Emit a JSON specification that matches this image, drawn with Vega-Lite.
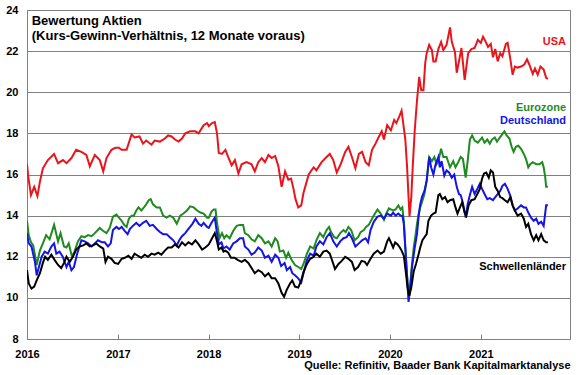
{
  "$schema": "https://vega.github.io/schema/vega-lite/v6.json",
  "width": 543,
  "height": 329,
  "autosize": {"type": "none"},
  "padding": {"left": 27, "top": 10, "right": 10, "bottom": 36},
  "background": "white",
  "config": {
    "font": "Liberation Sans",
    "view": {"stroke": "#808080", "strokeWidth": 1},
    "axis": {"labelFont": "Liberation Sans", "labelFontWeight": "bold", "labelFontSize": 11, "labelColor": "#000000", "titleFont": "Liberation Sans"}
  },
  "layer": [
    {
      "data": {"values": [
        {"d":"2016-01-01","s":"USA","v":16.5},{"d":"2016-01-06","s":"USA","v":15.9},{"d":"2016-01-17","s":"USA","v":15.0},{"d":"2016-01-30","s":"USA","v":15.4},{"d":"2016-02-12","s":"USA","v":14.95},{"d":"2016-02-22","s":"USA","v":15.65},{"d":"2016-03-05","s":"USA","v":16.3},{"d":"2016-03-25","s":"USA","v":16.7},{"d":"2016-04-19","s":"USA","v":17.0},{"d":"2016-05-05","s":"USA","v":16.55},{"d":"2016-05-25","s":"USA","v":16.7},{"d":"2016-06-08","s":"USA","v":16.55},{"d":"2016-06-28","s":"USA","v":16.8},{"d":"2016-07-17","s":"USA","v":17.2},{"d":"2016-08-07","s":"USA","v":17.1},{"d":"2016-08-27","s":"USA","v":16.95},{"d":"2016-09-10","s":"USA","v":16.4},{"d":"2016-09-30","s":"USA","v":16.95},{"d":"2016-10-20","s":"USA","v":16.7},{"d":"2016-11-03","s":"USA","v":16.15},{"d":"2016-11-16","s":"USA","v":16.8},{"d":"2016-12-06","s":"USA","v":17.2},{"d":"2016-12-22","s":"USA","v":17.3},
        {"d":"2017-01-05","s":"USA","v":17.3},{"d":"2017-01-16","s":"USA","v":17.2},{"d":"2017-02-05","s":"USA","v":17.2},{"d":"2017-02-25","s":"USA","v":17.95},{"d":"2017-03-09","s":"USA","v":17.8},{"d":"2017-03-29","s":"USA","v":17.85},{"d":"2017-04-12","s":"USA","v":17.5},{"d":"2017-04-25","s":"USA","v":17.65},{"d":"2017-05-16","s":"USA","v":17.45},{"d":"2017-05-29","s":"USA","v":17.65},{"d":"2017-06-19","s":"USA","v":17.6},{"d":"2017-07-09","s":"USA","v":17.75},{"d":"2017-07-22","s":"USA","v":17.9},{"d":"2017-08-05","s":"USA","v":17.85},{"d":"2017-08-19","s":"USA","v":17.7},{"d":"2017-09-02","s":"USA","v":17.6},{"d":"2017-09-16","s":"USA","v":17.75},{"d":"2017-09-29","s":"USA","v":18.0},{"d":"2017-10-19","s":"USA","v":18.1},{"d":"2017-11-09","s":"USA","v":18.1},{"d":"2017-11-22","s":"USA","v":18.0},{"d":"2017-12-12","s":"USA","v":18.4},{"d":"2017-12-26","s":"USA","v":18.5},
        {"d":"2018-01-02","s":"USA","v":18.35},{"d":"2018-01-15","s":"USA","v":18.5},{"d":"2018-01-26","s":"USA","v":18.55},{"d":"2018-02-04","s":"USA","v":18.0},{"d":"2018-02-11","s":"USA","v":17.05},{"d":"2018-02-24","s":"USA","v":17.0},{"d":"2018-03-10","s":"USA","v":17.2},{"d":"2018-03-21","s":"USA","v":16.85},{"d":"2018-04-04","s":"USA","v":16.45},{"d":"2018-04-17","s":"USA","v":16.7},{"d":"2018-05-01","s":"USA","v":16.05},{"d":"2018-05-14","s":"USA","v":16.5},{"d":"2018-06-03","s":"USA","v":16.6},{"d":"2018-06-23","s":"USA","v":16.5},{"d":"2018-07-06","s":"USA","v":16.15},{"d":"2018-07-20","s":"USA","v":16.6},{"d":"2018-08-03","s":"USA","v":16.8},{"d":"2018-08-16","s":"USA","v":16.6},{"d":"2018-08-30","s":"USA","v":16.95},{"d":"2018-09-12","s":"USA","v":16.8},{"d":"2018-09-26","s":"USA","v":16.9},{"d":"2018-10-09","s":"USA","v":16.4},{"d":"2018-10-22","s":"USA","v":15.4},{"d":"2018-11-05","s":"USA","v":16.15},{"d":"2018-11-18","s":"USA","v":15.75},{"d":"2018-11-29","s":"USA","v":15.8},{"d":"2018-12-08","s":"USA","v":15.35},{"d":"2018-12-17","s":"USA","v":14.8},{"d":"2018-12-28","s":"USA","v":14.4},
        {"d":"2019-01-09","s":"USA","v":14.5},{"d":"2019-01-18","s":"USA","v":15.1},{"d":"2019-02-08","s":"USA","v":16.0},{"d":"2019-02-28","s":"USA","v":16.35},{"d":"2019-03-11","s":"USA","v":16.2},{"d":"2019-04-01","s":"USA","v":16.6},{"d":"2019-04-21","s":"USA","v":16.85},{"d":"2019-05-04","s":"USA","v":17.0},{"d":"2019-05-18","s":"USA","v":16.7},{"d":"2019-06-01","s":"USA","v":16.1},{"d":"2019-06-15","s":"USA","v":16.45},{"d":"2019-07-05","s":"USA","v":17.1},{"d":"2019-07-18","s":"USA","v":17.35},{"d":"2019-08-01","s":"USA","v":16.85},{"d":"2019-08-15","s":"USA","v":16.3},{"d":"2019-08-29","s":"USA","v":17.0},{"d":"2019-09-11","s":"USA","v":17.1},{"d":"2019-09-25","s":"USA","v":16.6},{"d":"2019-10-08","s":"USA","v":16.45},{"d":"2019-10-21","s":"USA","v":17.2},{"d":"2019-11-04","s":"USA","v":17.5},{"d":"2019-11-18","s":"USA","v":17.85},{"d":"2019-11-29","s":"USA","v":18.1},{"d":"2019-12-08","s":"USA","v":17.7},{"d":"2019-12-21","s":"USA","v":18.4},
        {"d":"2020-01-05","s":"USA","v":18.15},{"d":"2020-01-18","s":"USA","v":18.65},{"d":"2020-01-27","s":"USA","v":18.5},{"d":"2020-02-07","s":"USA","v":18.8},{"d":"2020-02-17","s":"USA","v":19.1},{"d":"2020-02-22","s":"USA","v":18.65},{"d":"2020-03-03","s":"USA","v":17.7},{"d":"2020-03-10","s":"USA","v":16.4},{"d":"2020-03-16","s":"USA","v":14.9},{"d":"2020-03-20","s":"USA","v":13.95},{"d":"2020-03-27","s":"USA","v":14.9},{"d":"2020-04-02","s":"USA","v":16.4},{"d":"2020-04-10","s":"USA","v":18.15},{"d":"2020-04-19","s":"USA","v":19.6},{"d":"2020-04-28","s":"USA","v":20.75},{"d":"2020-05-06","s":"USA","v":20.1},{"d":"2020-05-15","s":"USA","v":20.1},{"d":"2020-05-22","s":"USA","v":21.4},{"d":"2020-05-28","s":"USA","v":21.9},{"d":"2020-06-07","s":"USA","v":22.3},{"d":"2020-06-18","s":"USA","v":22.05},{"d":"2020-06-24","s":"USA","v":21.5},{"d":"2020-07-03","s":"USA","v":21.5},{"d":"2020-07-14","s":"USA","v":22.1},{"d":"2020-07-25","s":"USA","v":22.45},{"d":"2020-08-03","s":"USA","v":22.05},{"d":"2020-08-16","s":"USA","v":22.3},{"d":"2020-08-30","s":"USA","v":23.15},{"d":"2020-09-06","s":"USA","v":22.45},{"d":"2020-09-19","s":"USA","v":21.95},{"d":"2020-09-26","s":"USA","v":20.95},{"d":"2020-10-05","s":"USA","v":21.5},{"d":"2020-10-15","s":"USA","v":22.15},{"d":"2020-10-28","s":"USA","v":20.6},{"d":"2020-11-11","s":"USA","v":21.9},{"d":"2020-11-24","s":"USA","v":22.1},{"d":"2020-12-07","s":"USA","v":22.15},{"d":"2020-12-20","s":"USA","v":22.55},
        {"d":"2021-01-01","s":"USA","v":22.4},{"d":"2021-01-10","s":"USA","v":22.7},{"d":"2021-01-19","s":"USA","v":22.5},{"d":"2021-01-30","s":"USA","v":22.2},{"d":"2021-02-10","s":"USA","v":22.35},{"d":"2021-02-19","s":"USA","v":21.7},{"d":"2021-02-28","s":"USA","v":22.1},{"d":"2021-03-10","s":"USA","v":21.5},{"d":"2021-03-20","s":"USA","v":21.9},{"d":"2021-03-29","s":"USA","v":21.75},{"d":"2021-04-12","s":"USA","v":22.35},{"d":"2021-04-19","s":"USA","v":22.4},{"d":"2021-04-30","s":"USA","v":21.6},{"d":"2021-05-09","s":"USA","v":20.85},{"d":"2021-05-18","s":"USA","v":21.25},{"d":"2021-05-29","s":"USA","v":21.2},{"d":"2021-06-12","s":"USA","v":21.25},{"d":"2021-06-25","s":"USA","v":21.35},{"d":"2021-07-06","s":"USA","v":21.6},{"d":"2021-07-15","s":"USA","v":21.35},{"d":"2021-07-29","s":"USA","v":20.9},{"d":"2021-08-07","s":"USA","v":21.15},{"d":"2021-08-18","s":"USA","v":20.85},{"d":"2021-08-29","s":"USA","v":21.25},{"d":"2021-09-11","s":"USA","v":21.1},{"d":"2021-09-21","s":"USA","v":20.7},{"d":"2021-09-28","s":"USA","v":20.65},

        {"d":"2016-01-01","s":"Eurozone","v":13.75},{"d":"2016-01-08","s":"Eurozone","v":13.05},{"d":"2016-01-17","s":"Eurozone","v":12.7},{"d":"2016-01-26","s":"Eurozone","v":12.55},{"d":"2016-02-09","s":"Eurozone","v":11.6},{"d":"2016-02-22","s":"Eurozone","v":12.3},{"d":"2016-03-05","s":"Eurozone","v":12.65},{"d":"2016-03-18","s":"Eurozone","v":13.05},{"d":"2016-04-01","s":"Eurozone","v":12.85},{"d":"2016-04-19","s":"Eurozone","v":13.55},{"d":"2016-05-05","s":"Eurozone","v":12.75},{"d":"2016-05-15","s":"Eurozone","v":13.15},{"d":"2016-05-29","s":"Eurozone","v":12.5},{"d":"2016-06-08","s":"Eurozone","v":12.45},{"d":"2016-06-17","s":"Eurozone","v":12.65},{"d":"2016-06-30","s":"Eurozone","v":12.0},{"d":"2016-07-10","s":"Eurozone","v":12.25},{"d":"2016-07-24","s":"Eurozone","v":12.75},{"d":"2016-08-07","s":"Eurozone","v":13.0},{"d":"2016-08-20","s":"Eurozone","v":12.95},{"d":"2016-09-03","s":"Eurozone","v":13.05},{"d":"2016-09-17","s":"Eurozone","v":13.0},{"d":"2016-09-30","s":"Eurozone","v":13.15},{"d":"2016-10-20","s":"Eurozone","v":13.4},{"d":"2016-11-03","s":"Eurozone","v":13.25},{"d":"2016-11-16","s":"Eurozone","v":13.15},{"d":"2016-11-29","s":"Eurozone","v":13.4},{"d":"2016-12-12","s":"Eurozone","v":13.95},{"d":"2016-12-26","s":"Eurozone","v":14.05},
        {"d":"2017-01-05","s":"Eurozone","v":13.9},{"d":"2017-01-16","s":"Eurozone","v":13.75},{"d":"2017-01-26","s":"Eurozone","v":13.55},{"d":"2017-02-05","s":"Eurozone","v":13.45},{"d":"2017-02-14","s":"Eurozone","v":13.85},{"d":"2017-02-25","s":"Eurozone","v":14.0},{"d":"2017-03-06","s":"Eurozone","v":14.0},{"d":"2017-03-16","s":"Eurozone","v":14.25},{"d":"2017-03-25","s":"Eurozone","v":14.4},{"d":"2017-04-05","s":"Eurozone","v":14.25},{"d":"2017-04-16","s":"Eurozone","v":14.4},{"d":"2017-04-25","s":"Eurozone","v":14.55},{"d":"2017-05-05","s":"Eurozone","v":14.75},{"d":"2017-05-13","s":"Eurozone","v":14.8},{"d":"2017-05-22","s":"Eurozone","v":14.55},{"d":"2017-06-06","s":"Eurozone","v":14.4},{"d":"2017-06-19","s":"Eurozone","v":14.4},{"d":"2017-07-02","s":"Eurozone","v":14.0},{"d":"2017-07-16","s":"Eurozone","v":13.9},{"d":"2017-07-29","s":"Eurozone","v":14.0},{"d":"2017-08-12","s":"Eurozone","v":13.9},{"d":"2017-08-26","s":"Eurozone","v":13.6},{"d":"2017-09-09","s":"Eurozone","v":14.0},{"d":"2017-09-22","s":"Eurozone","v":14.1},{"d":"2017-10-06","s":"Eurozone","v":14.25},{"d":"2017-10-19","s":"Eurozone","v":14.45},{"d":"2017-11-02","s":"Eurozone","v":14.4},{"d":"2017-11-16","s":"Eurozone","v":14.25},{"d":"2017-11-29","s":"Eurozone","v":14.15},{"d":"2017-12-12","s":"Eurozone","v":14.1},{"d":"2017-12-26","s":"Eurozone","v":13.9},
        {"d":"2018-01-02","s":"Eurozone","v":13.9},{"d":"2018-01-13","s":"Eurozone","v":14.2},{"d":"2018-01-22","s":"Eurozone","v":14.3},{"d":"2018-01-29","s":"Eurozone","v":14.3},{"d":"2018-02-04","s":"Eurozone","v":13.65},{"d":"2018-02-14","s":"Eurozone","v":12.9},{"d":"2018-02-24","s":"Eurozone","v":13.15},{"d":"2018-03-05","s":"Eurozone","v":12.9},{"d":"2018-03-14","s":"Eurozone","v":13.05},{"d":"2018-03-27","s":"Eurozone","v":12.9},{"d":"2018-04-10","s":"Eurozone","v":13.25},{"d":"2018-04-24","s":"Eurozone","v":13.5},{"d":"2018-05-07","s":"Eurozone","v":13.55},{"d":"2018-05-20","s":"Eurozone","v":13.55},{"d":"2018-05-27","s":"Eurozone","v":13.15},{"d":"2018-06-10","s":"Eurozone","v":13.05},{"d":"2018-06-23","s":"Eurozone","v":12.85},{"d":"2018-07-06","s":"Eurozone","v":12.75},{"d":"2018-07-20","s":"Eurozone","v":13.05},{"d":"2018-08-03","s":"Eurozone","v":12.9},{"d":"2018-08-16","s":"Eurozone","v":12.65},{"d":"2018-08-30","s":"Eurozone","v":12.75},{"d":"2018-09-12","s":"Eurozone","v":12.5},{"d":"2018-09-26","s":"Eurozone","v":12.9},{"d":"2018-10-06","s":"Eurozone","v":12.75},{"d":"2018-10-15","s":"Eurozone","v":12.25},{"d":"2018-10-29","s":"Eurozone","v":12.3},{"d":"2018-11-09","s":"Eurozone","v":11.95},{"d":"2018-11-18","s":"Eurozone","v":12.2},{"d":"2018-12-01","s":"Eurozone","v":11.85},{"d":"2018-12-15","s":"Eurozone","v":11.6},{"d":"2018-12-28","s":"Eurozone","v":11.5},
        {"d":"2019-01-09","s":"Eurozone","v":11.4},{"d":"2019-01-18","s":"Eurozone","v":11.65},{"d":"2019-02-01","s":"Eurozone","v":12.15},{"d":"2019-02-14","s":"Eurozone","v":12.5},{"d":"2019-02-28","s":"Eurozone","v":12.4},{"d":"2019-03-11","s":"Eurozone","v":12.8},{"d":"2019-03-25","s":"Eurozone","v":13.15},{"d":"2019-04-08","s":"Eurozone","v":12.95},{"d":"2019-04-21","s":"Eurozone","v":13.3},{"d":"2019-05-01","s":"Eurozone","v":13.45},{"d":"2019-05-09","s":"Eurozone","v":13.2},{"d":"2019-05-22","s":"Eurozone","v":12.95},{"d":"2019-06-01","s":"Eurozone","v":12.9},{"d":"2019-06-15","s":"Eurozone","v":13.15},{"d":"2019-06-28","s":"Eurozone","v":13.3},{"d":"2019-07-07","s":"Eurozone","v":13.2},{"d":"2019-07-18","s":"Eurozone","v":13.45},{"d":"2019-07-29","s":"Eurozone","v":13.3},{"d":"2019-08-12","s":"Eurozone","v":12.8},{"d":"2019-08-26","s":"Eurozone","v":12.95},{"d":"2019-09-05","s":"Eurozone","v":13.2},{"d":"2019-09-18","s":"Eurozone","v":13.3},{"d":"2019-09-27","s":"Eurozone","v":13.45},{"d":"2019-10-08","s":"Eurozone","v":13.55},{"d":"2019-10-21","s":"Eurozone","v":13.85},{"d":"2019-11-02","s":"Eurozone","v":14.1},{"d":"2019-11-12","s":"Eurozone","v":14.3},{"d":"2019-11-25","s":"Eurozone","v":14.1},{"d":"2019-12-08","s":"Eurozone","v":13.8},{"d":"2019-12-17","s":"Eurozone","v":14.1},{"d":"2019-12-28","s":"Eurozone","v":14.35},
        {"d":"2020-01-05","s":"Eurozone","v":14.3},{"d":"2020-01-14","s":"Eurozone","v":14.25},{"d":"2020-01-24","s":"Eurozone","v":14.3},{"d":"2020-02-04","s":"Eurozone","v":14.5},{"d":"2020-02-13","s":"Eurozone","v":14.3},{"d":"2020-02-20","s":"Eurozone","v":14.4},{"d":"2020-02-26","s":"Eurozone","v":13.75},{"d":"2020-03-03","s":"Eurozone","v":12.45},{"d":"2020-03-10","s":"Eurozone","v":11.15},{"d":"2020-03-16","s":"Eurozone","v":10.2},{"d":"2020-03-23","s":"Eurozone","v":10.7},{"d":"2020-03-30","s":"Eurozone","v":11.65},{"d":"2020-04-06","s":"Eurozone","v":12.45},{"d":"2020-04-12","s":"Eurozone","v":12.95},{"d":"2020-04-19","s":"Eurozone","v":13.6},{"d":"2020-04-26","s":"Eurozone","v":14.1},{"d":"2020-05-02","s":"Eurozone","v":14.4},{"d":"2020-05-09","s":"Eurozone","v":14.65},{"d":"2020-05-19","s":"Eurozone","v":15.05},{"d":"2020-05-28","s":"Eurozone","v":15.7},{"d":"2020-06-07","s":"Eurozone","v":16.85},{"d":"2020-06-18","s":"Eurozone","v":16.65},{"d":"2020-06-28","s":"Eurozone","v":16.85},{"d":"2020-07-07","s":"Eurozone","v":16.5},{"d":"2020-07-14","s":"Eurozone","v":16.65},{"d":"2020-07-25","s":"Eurozone","v":17.25},{"d":"2020-08-03","s":"Eurozone","v":16.85},{"d":"2020-08-16","s":"Eurozone","v":16.85},{"d":"2020-08-30","s":"Eurozone","v":16.35},{"d":"2020-09-12","s":"Eurozone","v":16.65},{"d":"2020-09-21","s":"Eurozone","v":16.35},{"d":"2020-10-02","s":"Eurozone","v":16.6},{"d":"2020-10-12","s":"Eurozone","v":16.85},{"d":"2020-10-21","s":"Eurozone","v":16.75},{"d":"2020-11-01","s":"Eurozone","v":15.85},{"d":"2020-11-09","s":"Eurozone","v":16.65},{"d":"2020-11-18","s":"Eurozone","v":17.7},{"d":"2020-11-27","s":"Eurozone","v":17.9},{"d":"2020-12-07","s":"Eurozone","v":17.65},{"d":"2020-12-20","s":"Eurozone","v":17.55},
        {"d":"2021-01-06","s":"Eurozone","v":17.8},{"d":"2021-01-16","s":"Eurozone","v":17.55},{"d":"2021-01-27","s":"Eurozone","v":17.7},{"d":"2021-02-06","s":"Eurozone","v":17.5},{"d":"2021-02-15","s":"Eurozone","v":17.7},{"d":"2021-02-26","s":"Eurozone","v":17.8},{"d":"2021-03-07","s":"Eurozone","v":17.6},{"d":"2021-03-16","s":"Eurozone","v":17.75},{"d":"2021-03-25","s":"Eurozone","v":17.9},{"d":"2021-04-06","s":"Eurozone","v":18.1},{"d":"2021-04-15","s":"Eurozone","v":17.9},{"d":"2021-04-26","s":"Eurozone","v":17.75},{"d":"2021-05-05","s":"Eurozone","v":17.35},{"d":"2021-05-13","s":"Eurozone","v":17.1},{"d":"2021-05-22","s":"Eurozone","v":17.35},{"d":"2021-06-01","s":"Eurozone","v":17.4},{"d":"2021-06-12","s":"Eurozone","v":17.25},{"d":"2021-06-23","s":"Eurozone","v":17.0},{"d":"2021-07-02","s":"Eurozone","v":16.75},{"d":"2021-07-11","s":"Eurozone","v":16.35},{"d":"2021-07-19","s":"Eurozone","v":16.5},{"d":"2021-07-29","s":"Eurozone","v":16.6},{"d":"2021-08-12","s":"Eurozone","v":16.5},{"d":"2021-08-25","s":"Eurozone","v":16.5},{"d":"2021-09-05","s":"Eurozone","v":16.6},{"d":"2021-09-11","s":"Eurozone","v":16.35},{"d":"2021-09-17","s":"Eurozone","v":15.9},{"d":"2021-09-21","s":"Eurozone","v":15.4},{"d":"2021-09-28","s":"Eurozone","v":15.4},

        {"d":"2016-01-01","s":"Deutschland","v":13.15},{"d":"2016-01-08","s":"Deutschland","v":12.65},{"d":"2016-01-19","s":"Deutschland","v":12.5},{"d":"2016-02-02","s":"Deutschland","v":11.75},{"d":"2016-02-09","s":"Deutschland","v":11.1},{"d":"2016-02-18","s":"Deutschland","v":11.5},{"d":"2016-02-29","s":"Deutschland","v":12.0},{"d":"2016-03-12","s":"Deutschland","v":12.25},{"d":"2016-03-25","s":"Deutschland","v":12.15},{"d":"2016-04-08","s":"Deutschland","v":12.5},{"d":"2016-04-19","s":"Deutschland","v":12.65},{"d":"2016-04-28","s":"Deutschland","v":12.15},{"d":"2016-05-11","s":"Deutschland","v":12.25},{"d":"2016-05-24","s":"Deutschland","v":12.0},{"d":"2016-06-08","s":"Deutschland","v":11.5},{"d":"2016-06-17","s":"Deutschland","v":11.75},{"d":"2016-06-28","s":"Deutschland","v":11.35},{"d":"2016-07-08","s":"Deutschland","v":11.5},{"d":"2016-07-21","s":"Deutschland","v":12.15},{"d":"2016-08-07","s":"Deutschland","v":12.8},{"d":"2016-08-20","s":"Deutschland","v":12.75},{"d":"2016-09-03","s":"Deutschland","v":12.65},{"d":"2016-09-17","s":"Deutschland","v":12.5},{"d":"2016-09-30","s":"Deutschland","v":12.65},{"d":"2016-10-13","s":"Deutschland","v":12.8},{"d":"2016-10-29","s":"Deutschland","v":12.7},{"d":"2016-11-09","s":"Deutschland","v":12.7},{"d":"2016-11-22","s":"Deutschland","v":12.5},{"d":"2016-12-03","s":"Deutschland","v":12.65},{"d":"2016-12-12","s":"Deutschland","v":13.3},{"d":"2016-12-26","s":"Deutschland","v":13.45},
        {"d":"2017-01-05","s":"Deutschland","v":13.35},{"d":"2017-01-16","s":"Deutschland","v":13.45},{"d":"2017-01-29","s":"Deutschland","v":13.25},{"d":"2017-02-09","s":"Deutschland","v":13.1},{"d":"2017-02-18","s":"Deutschland","v":13.35},{"d":"2017-03-02","s":"Deutschland","v":13.5},{"d":"2017-03-16","s":"Deutschland","v":13.65},{"d":"2017-03-29","s":"Deutschland","v":13.5},{"d":"2017-04-12","s":"Deutschland","v":13.65},{"d":"2017-04-25","s":"Deutschland","v":13.75},{"d":"2017-05-09","s":"Deutschland","v":13.5},{"d":"2017-05-22","s":"Deutschland","v":13.55},{"d":"2017-06-06","s":"Deutschland","v":13.35},{"d":"2017-06-19","s":"Deutschland","v":13.2},{"d":"2017-07-02","s":"Deutschland","v":13.1},{"d":"2017-07-16","s":"Deutschland","v":13.1},{"d":"2017-07-29","s":"Deutschland","v":12.95},{"d":"2017-08-12","s":"Deutschland","v":12.8},{"d":"2017-08-26","s":"Deutschland","v":12.55},{"d":"2017-09-05","s":"Deutschland","v":12.8},{"d":"2017-09-16","s":"Deutschland","v":13.0},{"d":"2017-09-29","s":"Deutschland","v":13.15},{"d":"2017-10-12","s":"Deutschland","v":13.35},{"d":"2017-10-28","s":"Deutschland","v":13.6},{"d":"2017-11-09","s":"Deutschland","v":13.85},{"d":"2017-11-22","s":"Deutschland","v":13.6},{"d":"2017-12-03","s":"Deutschland","v":13.5},{"d":"2017-12-12","s":"Deutschland","v":13.65},{"d":"2017-12-26","s":"Deutschland","v":13.45},
        {"d":"2018-01-02","s":"Deutschland","v":13.4},{"d":"2018-01-15","s":"Deutschland","v":13.7},{"d":"2018-01-26","s":"Deutschland","v":13.9},{"d":"2018-02-02","s":"Deutschland","v":13.3},{"d":"2018-02-11","s":"Deutschland","v":12.6},{"d":"2018-02-22","s":"Deutschland","v":12.7},{"d":"2018-03-02","s":"Deutschland","v":12.4},{"d":"2018-03-14","s":"Deutschland","v":12.5},{"d":"2018-03-27","s":"Deutschland","v":12.35},{"d":"2018-04-10","s":"Deutschland","v":12.65},{"d":"2018-04-24","s":"Deutschland","v":12.75},{"d":"2018-05-07","s":"Deutschland","v":12.9},{"d":"2018-05-20","s":"Deutschland","v":12.9},{"d":"2018-05-27","s":"Deutschland","v":12.5},{"d":"2018-06-10","s":"Deutschland","v":12.35},{"d":"2018-06-23","s":"Deutschland","v":12.1},{"d":"2018-07-06","s":"Deutschland","v":12.2},{"d":"2018-07-20","s":"Deutschland","v":12.45},{"d":"2018-08-03","s":"Deutschland","v":12.3},{"d":"2018-08-16","s":"Deutschland","v":11.95},{"d":"2018-08-30","s":"Deutschland","v":12.05},{"d":"2018-09-12","s":"Deutschland","v":11.75},{"d":"2018-09-26","s":"Deutschland","v":12.1},{"d":"2018-10-09","s":"Deutschland","v":11.95},{"d":"2018-10-20","s":"Deutschland","v":11.55},{"d":"2018-11-03","s":"Deutschland","v":11.7},{"d":"2018-11-12","s":"Deutschland","v":11.35},{"d":"2018-11-25","s":"Deutschland","v":11.5},{"d":"2018-12-04","s":"Deutschland","v":11.2},{"d":"2018-12-15","s":"Deutschland","v":11.1},{"d":"2018-12-28","s":"Deutschland","v":10.95},
        {"d":"2019-01-09","s":"Deutschland","v":10.75},{"d":"2019-01-18","s":"Deutschland","v":11.2},{"d":"2019-02-01","s":"Deutschland","v":11.85},{"d":"2019-02-14","s":"Deutschland","v":12.15},{"d":"2019-02-28","s":"Deutschland","v":12.05},{"d":"2019-03-11","s":"Deutschland","v":12.5},{"d":"2019-03-25","s":"Deutschland","v":12.75},{"d":"2019-04-08","s":"Deutschland","v":12.6},{"d":"2019-04-21","s":"Deutschland","v":12.95},{"d":"2019-05-04","s":"Deutschland","v":13.15},{"d":"2019-05-18","s":"Deutschland","v":12.75},{"d":"2019-06-01","s":"Deutschland","v":12.5},{"d":"2019-06-15","s":"Deutschland","v":12.75},{"d":"2019-06-28","s":"Deutschland","v":12.9},{"d":"2019-07-11","s":"Deutschland","v":12.95},{"d":"2019-07-20","s":"Deutschland","v":13.15},{"d":"2019-08-01","s":"Deutschland","v":12.9},{"d":"2019-08-15","s":"Deutschland","v":12.5},{"d":"2019-08-29","s":"Deutschland","v":12.65},{"d":"2019-09-11","s":"Deutschland","v":12.8},{"d":"2019-09-25","s":"Deutschland","v":12.9},{"d":"2019-10-05","s":"Deutschland","v":12.7},{"d":"2019-10-15","s":"Deutschland","v":13.3},{"d":"2019-10-28","s":"Deutschland","v":13.7},{"d":"2019-11-12","s":"Deutschland","v":13.95},{"d":"2019-11-25","s":"Deutschland","v":14.0},{"d":"2019-12-08","s":"Deutschland","v":13.85},{"d":"2019-12-21","s":"Deutschland","v":14.1},
        {"d":"2020-01-05","s":"Deutschland","v":14.0},{"d":"2020-01-14","s":"Deutschland","v":14.15},{"d":"2020-01-24","s":"Deutschland","v":14.0},{"d":"2020-02-04","s":"Deutschland","v":14.1},{"d":"2020-02-13","s":"Deutschland","v":14.0},{"d":"2020-02-20","s":"Deutschland","v":14.0},{"d":"2020-02-26","s":"Deutschland","v":13.6},{"d":"2020-03-03","s":"Deutschland","v":12.45},{"d":"2020-03-10","s":"Deutschland","v":11.0},{"d":"2020-03-16","s":"Deutschland","v":9.8},{"d":"2020-03-23","s":"Deutschland","v":10.5},{"d":"2020-03-30","s":"Deutschland","v":11.5},{"d":"2020-04-10","s":"Deutschland","v":12.45},{"d":"2020-04-19","s":"Deutschland","v":13.1},{"d":"2020-04-26","s":"Deutschland","v":14.0},{"d":"2020-05-02","s":"Deutschland","v":14.55},{"d":"2020-05-09","s":"Deutschland","v":14.9},{"d":"2020-05-19","s":"Deutschland","v":15.2},{"d":"2020-05-28","s":"Deutschland","v":15.7},{"d":"2020-06-07","s":"Deutschland","v":16.85},{"d":"2020-06-15","s":"Deutschland","v":16.35},{"d":"2020-06-24","s":"Deutschland","v":16.0},{"d":"2020-07-03","s":"Deutschland","v":16.5},{"d":"2020-07-14","s":"Deutschland","v":16.85},{"d":"2020-07-20","s":"Deutschland","v":16.35},{"d":"2020-07-27","s":"Deutschland","v":16.65},{"d":"2020-08-07","s":"Deutschland","v":15.95},{"d":"2020-08-16","s":"Deutschland","v":16.2},{"d":"2020-08-26","s":"Deutschland","v":16.1},{"d":"2020-09-06","s":"Deutschland","v":15.85},{"d":"2020-09-16","s":"Deutschland","v":16.0},{"d":"2020-09-26","s":"Deutschland","v":15.4},{"d":"2020-10-05","s":"Deutschland","v":15.05},{"d":"2020-10-12","s":"Deutschland","v":15.0},{"d":"2020-10-21","s":"Deutschland","v":14.6},{"d":"2020-11-01","s":"Deutschland","v":13.9},{"d":"2020-11-09","s":"Deutschland","v":14.55},{"d":"2020-11-18","s":"Deutschland","v":15.0},{"d":"2020-11-27","s":"Deutschland","v":15.4},{"d":"2020-12-07","s":"Deutschland","v":15.05},{"d":"2020-12-18","s":"Deutschland","v":15.3},{"d":"2020-12-28","s":"Deutschland","v":15.55},
        {"d":"2021-01-06","s":"Deutschland","v":15.3},{"d":"2021-01-16","s":"Deutschland","v":15.05},{"d":"2021-01-27","s":"Deutschland","v":14.8},{"d":"2021-02-06","s":"Deutschland","v":14.85},{"d":"2021-02-19","s":"Deutschland","v":14.75},{"d":"2021-02-28","s":"Deutschland","v":14.9},{"d":"2021-03-10","s":"Deutschland","v":15.05},{"d":"2021-03-20","s":"Deutschland","v":15.2},{"d":"2021-03-29","s":"Deutschland","v":15.45},{"d":"2021-04-08","s":"Deutschland","v":15.55},{"d":"2021-04-19","s":"Deutschland","v":15.3},{"d":"2021-04-30","s":"Deutschland","v":14.95},{"d":"2021-05-09","s":"Deutschland","v":14.5},{"d":"2021-05-18","s":"Deutschland","v":14.25},{"d":"2021-05-29","s":"Deutschland","v":14.35},{"d":"2021-06-12","s":"Deutschland","v":14.5},{"d":"2021-06-23","s":"Deutschland","v":14.4},{"d":"2021-07-02","s":"Deutschland","v":14.4},{"d":"2021-07-11","s":"Deutschland","v":14.15},{"d":"2021-07-22","s":"Deutschland","v":13.9},{"d":"2021-08-02","s":"Deutschland","v":13.75},{"d":"2021-08-12","s":"Deutschland","v":13.85},{"d":"2021-08-21","s":"Deutschland","v":13.6},{"d":"2021-09-01","s":"Deutschland","v":13.7},{"d":"2021-09-11","s":"Deutschland","v":13.5},{"d":"2021-09-21","s":"Deutschland","v":14.5},{"d":"2021-09-28","s":"Deutschland","v":14.5},

        {"d":"2016-01-01","s":"Schwellenländer","v":11.35},{"d":"2016-01-08","s":"Schwellenländer","v":10.7},{"d":"2016-01-19","s":"Schwellenländer","v":10.45},{"d":"2016-01-30","s":"Schwellenländer","v":10.55},{"d":"2016-02-09","s":"Schwellenländer","v":10.85},{"d":"2016-02-22","s":"Schwellenländer","v":11.2},{"d":"2016-03-05","s":"Schwellenländer","v":11.7},{"d":"2016-03-14","s":"Schwellenländer","v":12.0},{"d":"2016-03-25","s":"Schwellenländer","v":11.85},{"d":"2016-04-08","s":"Schwellenländer","v":12.1},{"d":"2016-04-21","s":"Schwellenländer","v":11.85},{"d":"2016-05-05","s":"Schwellenländer","v":11.6},{"d":"2016-05-18","s":"Schwellenländer","v":11.45},{"d":"2016-05-29","s":"Schwellenländer","v":11.7},{"d":"2016-06-08","s":"Schwellenländer","v":12.0},{"d":"2016-06-21","s":"Schwellenländer","v":11.75},{"d":"2016-07-04","s":"Schwellenländer","v":12.0},{"d":"2016-07-17","s":"Schwellenländer","v":12.35},{"d":"2016-07-31","s":"Schwellenländer","v":12.5},{"d":"2016-08-14","s":"Schwellenländer","v":12.55},{"d":"2016-08-27","s":"Schwellenländer","v":12.65},{"d":"2016-09-10","s":"Schwellenländer","v":12.5},{"d":"2016-09-23","s":"Schwellenländer","v":12.55},{"d":"2016-10-06","s":"Schwellenländer","v":12.65},{"d":"2016-10-20","s":"Schwellenländer","v":12.5},{"d":"2016-11-03","s":"Schwellenländer","v":12.4},{"d":"2016-11-12","s":"Schwellenländer","v":11.75},{"d":"2016-11-22","s":"Schwellenländer","v":12.0},{"d":"2016-12-06","s":"Schwellenländer","v":11.9},{"d":"2016-12-19","s":"Schwellenländer","v":11.7},
        {"d":"2017-01-02","s":"Schwellenländer","v":11.65},{"d":"2017-01-16","s":"Schwellenländer","v":11.9},{"d":"2017-01-29","s":"Schwellenländer","v":11.95},{"d":"2017-02-12","s":"Schwellenländer","v":12.05},{"d":"2017-02-25","s":"Schwellenländer","v":11.9},{"d":"2017-03-09","s":"Schwellenländer","v":12.15},{"d":"2017-03-22","s":"Schwellenländer","v":12.05},{"d":"2017-04-05","s":"Schwellenländer","v":11.95},{"d":"2017-04-19","s":"Schwellenländer","v":12.1},{"d":"2017-05-02","s":"Schwellenländer","v":12.0},{"d":"2017-05-16","s":"Schwellenländer","v":12.15},{"d":"2017-05-29","s":"Schwellenländer","v":12.1},{"d":"2017-06-12","s":"Schwellenländer","v":12.2},{"d":"2017-06-25","s":"Schwellenländer","v":12.1},{"d":"2017-07-09","s":"Schwellenländer","v":12.3},{"d":"2017-07-22","s":"Schwellenländer","v":12.45},{"d":"2017-08-05","s":"Schwellenländer","v":12.45},{"d":"2017-08-19","s":"Schwellenländer","v":12.6},{"d":"2017-09-02","s":"Schwellenländer","v":12.45},{"d":"2017-09-16","s":"Schwellenländer","v":12.7},{"d":"2017-09-29","s":"Schwellenländer","v":12.55},{"d":"2017-10-12","s":"Schwellenländer","v":12.7},{"d":"2017-10-26","s":"Schwellenländer","v":12.6},{"d":"2017-11-09","s":"Schwellenländer","v":12.8},{"d":"2017-11-22","s":"Schwellenländer","v":12.6},{"d":"2017-12-06","s":"Schwellenländer","v":12.35},{"d":"2017-12-19","s":"Schwellenländer","v":12.45},
        {"d":"2018-01-02","s":"Schwellenländer","v":12.6},{"d":"2018-01-15","s":"Schwellenländer","v":12.9},{"d":"2018-01-26","s":"Schwellenländer","v":13.15},{"d":"2018-02-04","s":"Schwellenländer","v":12.75},{"d":"2018-02-11","s":"Schwellenländer","v":12.35},{"d":"2018-02-22","s":"Schwellenländer","v":12.45},{"d":"2018-03-02","s":"Schwellenländer","v":12.25},{"d":"2018-03-10","s":"Schwellenländer","v":12.3},{"d":"2018-03-21","s":"Schwellenländer","v":12.2},{"d":"2018-04-01","s":"Schwellenländer","v":11.95},{"d":"2018-04-15","s":"Schwellenländer","v":11.95},{"d":"2018-04-28","s":"Schwellenländer","v":11.85},{"d":"2018-05-14","s":"Schwellenländer","v":11.75},{"d":"2018-05-27","s":"Schwellenländer","v":11.85},{"d":"2018-06-10","s":"Schwellenländer","v":11.7},{"d":"2018-06-23","s":"Schwellenländer","v":11.45},{"d":"2018-07-06","s":"Schwellenländer","v":11.2},{"d":"2018-07-20","s":"Schwellenländer","v":11.35},{"d":"2018-08-03","s":"Schwellenländer","v":11.25},{"d":"2018-08-16","s":"Schwellenländer","v":11.05},{"d":"2018-08-30","s":"Schwellenländer","v":11.2},{"d":"2018-09-12","s":"Schwellenländer","v":10.95},{"d":"2018-09-26","s":"Schwellenländer","v":10.95},{"d":"2018-10-09","s":"Schwellenländer","v":10.7},{"d":"2018-10-22","s":"Schwellenländer","v":10.25},{"d":"2018-11-01","s":"Schwellenländer","v":10.05},{"d":"2018-11-12","s":"Schwellenländer","v":10.4},{"d":"2018-11-25","s":"Schwellenländer","v":10.7},{"d":"2018-12-04","s":"Schwellenländer","v":10.85},{"d":"2018-12-15","s":"Schwellenländer","v":10.55},{"d":"2018-12-28","s":"Schwellenländer","v":10.5},
        {"d":"2019-01-09","s":"Schwellenländer","v":10.85},{"d":"2019-01-18","s":"Schwellenländer","v":11.25},{"d":"2019-02-01","s":"Schwellenländer","v":11.65},{"d":"2019-02-14","s":"Schwellenländer","v":11.9},{"d":"2019-02-28","s":"Schwellenländer","v":12.0},{"d":"2019-03-11","s":"Schwellenländer","v":12.15},{"d":"2019-03-25","s":"Schwellenländer","v":12.0},{"d":"2019-04-08","s":"Schwellenländer","v":12.25},{"d":"2019-04-21","s":"Schwellenländer","v":12.3},{"d":"2019-05-04","s":"Schwellenländer","v":12.15},{"d":"2019-05-14","s":"Schwellenländer","v":11.8},{"d":"2019-05-25","s":"Schwellenländer","v":11.4},{"d":"2019-06-08","s":"Schwellenländer","v":11.65},{"d":"2019-06-21","s":"Schwellenländer","v":11.8},{"d":"2019-07-05","s":"Schwellenländer","v":12.0},{"d":"2019-07-18","s":"Schwellenländer","v":11.9},{"d":"2019-08-01","s":"Schwellenländer","v":11.75},{"d":"2019-08-12","s":"Schwellenländer","v":11.35},{"d":"2019-08-26","s":"Schwellenländer","v":11.5},{"d":"2019-09-09","s":"Schwellenländer","v":11.8},{"d":"2019-09-22","s":"Schwellenländer","v":11.75},{"d":"2019-10-01","s":"Schwellenländer","v":11.6},{"d":"2019-10-15","s":"Schwellenländer","v":11.9},{"d":"2019-10-28","s":"Schwellenländer","v":12.15},{"d":"2019-11-12","s":"Schwellenländer","v":12.3},{"d":"2019-11-25","s":"Schwellenländer","v":12.15},{"d":"2019-12-08","s":"Schwellenländer","v":12.25},{"d":"2019-12-21","s":"Schwellenländer","v":12.75},{"d":"2019-12-28","s":"Schwellenländer","v":12.9},
        {"d":"2020-01-05","s":"Schwellenländer","v":12.7},{"d":"2020-01-14","s":"Schwellenländer","v":12.45},{"d":"2020-01-22","s":"Schwellenländer","v":12.7},{"d":"2020-02-01","s":"Schwellenländer","v":12.6},{"d":"2020-02-10","s":"Schwellenländer","v":12.45},{"d":"2020-02-17","s":"Schwellenländer","v":12.3},{"d":"2020-02-26","s":"Schwellenländer","v":12.05},{"d":"2020-03-06","s":"Schwellenländer","v":11.15},{"d":"2020-03-12","s":"Schwellenländer","v":10.5},{"d":"2020-03-19","s":"Schwellenländer","v":10.1},{"d":"2020-03-27","s":"Schwellenländer","v":10.5},{"d":"2020-04-06","s":"Schwellenländer","v":11.3},{"d":"2020-04-15","s":"Schwellenländer","v":11.65},{"d":"2020-04-26","s":"Schwellenländer","v":12.15},{"d":"2020-05-02","s":"Schwellenländer","v":12.45},{"d":"2020-05-11","s":"Schwellenländer","v":12.8},{"d":"2020-05-19","s":"Schwellenländer","v":12.95},{"d":"2020-05-28","s":"Schwellenländer","v":13.1},{"d":"2020-06-04","s":"Schwellenländer","v":13.75},{"d":"2020-06-15","s":"Schwellenländer","v":14.0},{"d":"2020-06-24","s":"Schwellenländer","v":14.1},{"d":"2020-07-03","s":"Schwellenländer","v":14.15},{"d":"2020-07-14","s":"Schwellenländer","v":15.0},{"d":"2020-07-20","s":"Schwellenländer","v":15.05},{"d":"2020-07-30","s":"Schwellenländer","v":14.8},{"d":"2020-08-10","s":"Schwellenländer","v":14.9},{"d":"2020-08-20","s":"Schwellenländer","v":14.65},{"d":"2020-08-30","s":"Schwellenländer","v":14.75},{"d":"2020-09-12","s":"Schwellenländer","v":14.8},{"d":"2020-09-21","s":"Schwellenländer","v":14.4},{"d":"2020-09-29","s":"Schwellenländer","v":14.1},{"d":"2020-10-09","s":"Schwellenländer","v":14.4},{"d":"2020-10-18","s":"Schwellenländer","v":14.65},{"d":"2020-10-28","s":"Schwellenländer","v":14.15},{"d":"2020-11-04","s":"Schwellenländer","v":14.0},{"d":"2020-11-13","s":"Schwellenländer","v":14.5},{"d":"2020-11-24","s":"Schwellenländer","v":14.75},{"d":"2020-12-07","s":"Schwellenländer","v":14.8},{"d":"2020-12-20","s":"Schwellenländer","v":15.1},{"d":"2020-12-28","s":"Schwellenländer","v":15.3},
        {"d":"2021-01-06","s":"Schwellenländer","v":15.8},{"d":"2021-01-14","s":"Schwellenländer","v":16.05},{"d":"2021-01-23","s":"Schwellenländer","v":16.1},{"d":"2021-02-02","s":"Schwellenländer","v":15.85},{"d":"2021-02-10","s":"Schwellenländer","v":16.2},{"d":"2021-02-19","s":"Schwellenländer","v":16.1},{"d":"2021-02-28","s":"Schwellenländer","v":15.4},{"d":"2021-03-10","s":"Schwellenländer","v":15.2},{"d":"2021-03-20","s":"Schwellenländer","v":14.9},{"d":"2021-03-29","s":"Schwellenländer","v":14.85},{"d":"2021-04-08","s":"Schwellenländer","v":14.75},{"d":"2021-04-19","s":"Schwellenländer","v":14.65},{"d":"2021-04-30","s":"Schwellenländer","v":14.9},{"d":"2021-05-09","s":"Schwellenländer","v":14.5},{"d":"2021-05-18","s":"Schwellenländer","v":14.25},{"d":"2021-05-29","s":"Schwellenländer","v":14.0},{"d":"2021-06-12","s":"Schwellenländer","v":14.1},{"d":"2021-06-23","s":"Schwellenländer","v":13.85},{"d":"2021-07-02","s":"Schwellenländer","v":13.45},{"d":"2021-07-11","s":"Schwellenländer","v":13.6},{"d":"2021-07-22","s":"Schwellenländer","v":13.1},{"d":"2021-08-02","s":"Schwellenländer","v":12.8},{"d":"2021-08-12","s":"Schwellenländer","v":13.05},{"d":"2021-08-21","s":"Schwellenländer","v":12.8},{"d":"2021-09-01","s":"Schwellenländer","v":13.1},{"d":"2021-09-11","s":"Schwellenländer","v":12.8},{"d":"2021-09-21","s":"Schwellenländer","v":12.7},{"d":"2021-09-28","s":"Schwellenländer","v":12.7}
      ]},
      "mark": {"type": "line", "strokeWidth": 2, "clip": true},
      "encoding": {
        "x": {
          "field": "d", "type": "temporal",
          "scale": {"type": "utc", "domain": [{"year": 2016, "month": 1, "date": 1, "utc": true}, {"year": 2021, "month": 12, "date": 26, "utc": true}]},
          "axis": {
            "values": [{"year": 2016, "month": 1, "date": 1, "utc": true}, {"year": 2017, "month": 1, "date": 1, "utc": true}, {"year": 2018, "month": 1, "date": 1, "utc": true}, {"year": 2019, "month": 1, "date": 1, "utc": true}, {"year": 2020, "month": 1, "date": 1, "utc": true}, {"year": 2021, "month": 1, "date": 1, "utc": true}],
            "format": "%Y",
            "grid": false,
            "domainColor": "#808080",
            "tickColor": "#808080",
            "tickSize": -5,
            "labelPadding": 14,
            "labelAngle": 0,
            "labelAlign": "center",
            "title": "Quelle: Refinitiv, Baader Bank Kapitalmarktanalyse",
            "titleAnchor": "end",
            "titleAlign": "right",
            "titleFontSize": 11,
            "titleFontWeight": "bold",
            "titleColor": "#000000",
            "titlePadding": 0
          }
        },
        "y": {
          "field": "v", "type": "quantitative",
          "scale": {"domain": [8, 24], "nice": false, "zero": false},
          "axis": {
            "values": [8, 10, 12, 14, 16, 18, 20, 22, 24],
            "title": null,
            "ticks": false,
            "labelPadding": 9,
            "gridColor": "#808080",
            "gridWidth": 1,
            "domainColor": "#808080"
          }
        },
        "color": {
          "field": "s", "type": "nominal", "legend": null,
          "scale": {"domain": ["USA", "Eurozone", "Deutschland", "Schwellenländer"], "range": ["#e8161c", "#1f8a1f", "#1414e6", "#000000"]}
        }
      }
    },
    {
      "data": {"values": [
        {"d": "2021-12-10", "v": 22.44, "s": "USA"},
        {"d": "2021-12-10", "v": 19.23, "s": "Eurozone"},
        {"d": "2021-12-10", "v": 18.6, "s": "Deutschland"},
        {"d": "2021-12-10", "v": 11.5, "s": "Schwellenländer"}
      ]},
      "mark": {"type": "text", "align": "right", "baseline": "middle", "fontSize": 11, "fontWeight": "bold", "font": "Liberation Sans"},
      "encoding": {
        "x": {"field": "d", "type": "temporal"},
        "y": {"field": "v", "type": "quantitative"},
        "text": {"field": "s"},
        "color": {"field": "s", "type": "nominal", "legend": null}
      }
    },
    {
      "data": {"values": [
        {"d": "2016-01-20", "v": 23.46, "t": "Bewertung Aktien"},
        {"d": "2016-01-20", "v": 22.73, "t": "(Kurs-Gewinn-Verhältnis, 12 Monate voraus)"}
      ]},
      "mark": {"type": "text", "align": "left", "baseline": "middle", "fontSize": 13, "fontWeight": "bold", "font": "Liberation Sans", "color": "#000000"},
      "encoding": {
        "x": {"field": "d", "type": "temporal"},
        "y": {"field": "v", "type": "quantitative"},
        "text": {"field": "t"}
      }
    }
  ]
}
